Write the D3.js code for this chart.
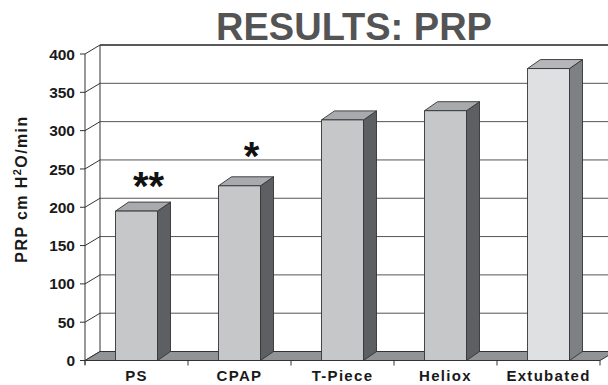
<!DOCTYPE html>
<html>
<head>
<meta charset="utf-8">
<script src="https://cdn.jsdelivr.net/npm/d3@7"></script>
<style>
  html, body { margin: 0; padding: 0; background: #fff; }
  svg { display: block; font-family: "Liberation Sans", Arial, sans-serif; }
</style>
</head>
<body>
<svg id="chart" width="608" height="385"></svg>
<script>
// Chart data
const categories = ["PS", "CPAP", "T-Piece", "Heliox", "Extubated"];
const prpValues = [195, 228, 314, 326, 381];
const yTicks = [0, 50, 100, 150, 200, 250, 300, 350, 400];
const starLabels = ["**", "*", "", "", ""];
const starAnchors = [210, 249, 0, 0, 0];

const svg = d3.select("#chart");

// Front plane of the 3D plot and depth offsets
const front = { left: 85, right: 600, top: 54, bottom: 360.5 };
const wallDX = 15, wallDY = -9;   // back wall offset
const barDX = 13, barDY = -9;     // bar depth offset

const x = d3.scaleBand().domain(categories).range([front.left, front.right]).padding(0);
const y = d3.scaleLinear().domain([0, 400]).range([front.bottom, front.top]);

const barW = 42;
const ink = "#333";

// Back wall
svg.append("rect")
  .attr("x", front.left + wallDX).attr("y", y(400) + wallDY)
  .attr("width", 608 - front.left - wallDX + 2)
  .attr("height", y(0) - y(400))
  .attr("fill", "#fff");

// Gridlines across back wall plus slanted links on the left side wall
const grid = svg.append("g");
yTicks.forEach(t => {
  const yy = y(t);
  if (t > 0) {
    grid.append("line")
      .attr("x1", front.left + wallDX).attr("x2", 610)
      .attr("y1", yy + wallDY).attr("y2", yy + wallDY)
      .attr("stroke", t === 400 ? "#222" : "#555")
      .attr("stroke-width", t === 400 ? 1.3 : 1);
  }
  grid.append("line")
    .attr("x1", front.left).attr("y1", yy)
    .attr("x2", front.left + wallDX).attr("y2", yy + wallDY)
    .attr("stroke", ink).attr("stroke-width", 1);
});
// Back wall left edge
grid.append("line")
  .attr("x1", front.left + wallDX).attr("x2", front.left + wallDX)
  .attr("y1", y(400) + wallDY).attr("y2", y(0) + wallDY)
  .attr("stroke", ink).attr("stroke-width", 1);

// Floor
svg.append("path")
  .attr("d", d3.line()([
    [front.left, y(0)],
    [front.right, y(0)],
    [front.right + wallDX, y(0) + wallDY],
    [front.left + wallDX, y(0) + wallDY]
  ]) + "Z")
  .attr("fill", "#929396")
  .attr("stroke", ink).attr("stroke-width", 1);

// Bars
const bars = svg.append("g");
categories.forEach((c, i) => {
  const v = prpValues[i];
  const last = i === categories.length - 1;
  const xc = x(c) + x.bandwidth() / 2;
  const xl = xc - barW / 2, xr = xc + barW / 2;
  const yt = y(v), yb = y(0);
  const col = last
    ? { front: "#dfe0e2", top: "#b5b6b9", side: "#7f8084" }
    : { front: "#c6c7c9", top: "#a9aaad", side: "#5e5f62" };
  const g = bars.append("g").attr("stroke", ink).attr("stroke-width", 0.9).attr("stroke-linejoin", "round");
  // side
  g.append("path")
    .attr("d", d3.line()([[xr, yt], [xr + barDX, yt + barDY], [xr + barDX, yb + barDY], [xr, yb]]) + "Z")
    .attr("fill", col.side);
  // top
  g.append("path")
    .attr("d", d3.line()([[xl, yt], [xl + barDX, yt + barDY], [xr + barDX, yt + barDY], [xr, yt]]) + "Z")
    .attr("fill", col.top);
  // front
  g.append("rect")
    .attr("x", xl).attr("y", yt).attr("width", barW).attr("height", yb - yt)
    .attr("fill", col.front);
});

// Significance markers
categories.forEach((c, i) => {
  if (!starLabels[i]) return;
  svg.append("text")
    .attr("x", x(c) + x.bandwidth() / 2 + 12)
    .attr("y", y(starAnchors[i]))
    .attr("text-anchor", "middle")
    .attr("font-size", 40).attr("font-weight", "bold")
    .attr("fill", "#111")
    .text(starLabels[i]);
});

// Y axis (front edge)
const yAxis = svg.append("g");
yAxis.append("line")
  .attr("x1", front.left).attr("x2", front.left)
  .attr("y1", y(400)).attr("y2", y(0) + 4)
  .attr("stroke", ink).attr("stroke-width", 1);
yTicks.forEach(t => {
  yAxis.append("line")
    .attr("x1", front.left - 5).attr("x2", front.left)
    .attr("y1", y(t)).attr("y2", y(t))
    .attr("stroke", ink).attr("stroke-width", 1);
  yAxis.append("text")
    .attr("x", front.left - 10).attr("y", y(t))
    .attr("dy", "0.36em")
    .attr("text-anchor", "end")
    .attr("font-size", 15.5).attr("font-weight", "bold")
    .attr("fill", "#1a1a1a")
    .text(t);
});

// X axis (front edge)
const xAxis = svg.append("g");
xAxis.append("line")
  .attr("x1", front.left).attr("x2", front.right)
  .attr("y1", y(0)).attr("y2", y(0))
  .attr("stroke", ink).attr("stroke-width", 1);
const bounds = categories.map(c => x(c)).concat([front.right]);
bounds.forEach(bx => {
  xAxis.append("line")
    .attr("x1", bx).attr("x2", bx)
    .attr("y1", y(0)).attr("y2", y(0) + 5)
    .attr("stroke", ink).attr("stroke-width", 1);
});
categories.forEach(c => {
  xAxis.append("text")
    .attr("x", x(c) + x.bandwidth() / 2)
    .attr("y", 381)
    .attr("text-anchor", "middle")
    .attr("font-size", 15).attr("font-weight", "bold")
    .attr("letter-spacing", 1.3)
    .attr("fill", "#1a1a1a")
    .text(c);
});

// Y axis title with superscript
const yTitle = svg.append("text")
  .attr("transform", "translate(27,189) rotate(-90)")
  .attr("text-anchor", "middle")
  .attr("font-size", 16).attr("font-weight", "bold")
  .attr("letter-spacing", 1.4)
  .attr("fill", "#1a1a1a");
yTitle.append("tspan").text("PRP cm H");
yTitle.append("tspan").attr("dy", -6).attr("font-size", 11).text("2");
yTitle.append("tspan").attr("dy", 6).text("O/min");

// Title
svg.append("text")
  .attr("x", 354).attr("y", 40)
  .attr("text-anchor", "middle")
  .attr("font-size", 38).attr("font-weight", "bold")
  .attr("fill", "#545454")
  .text("RESULTS: PRP");
</script>
</body>
</html>
